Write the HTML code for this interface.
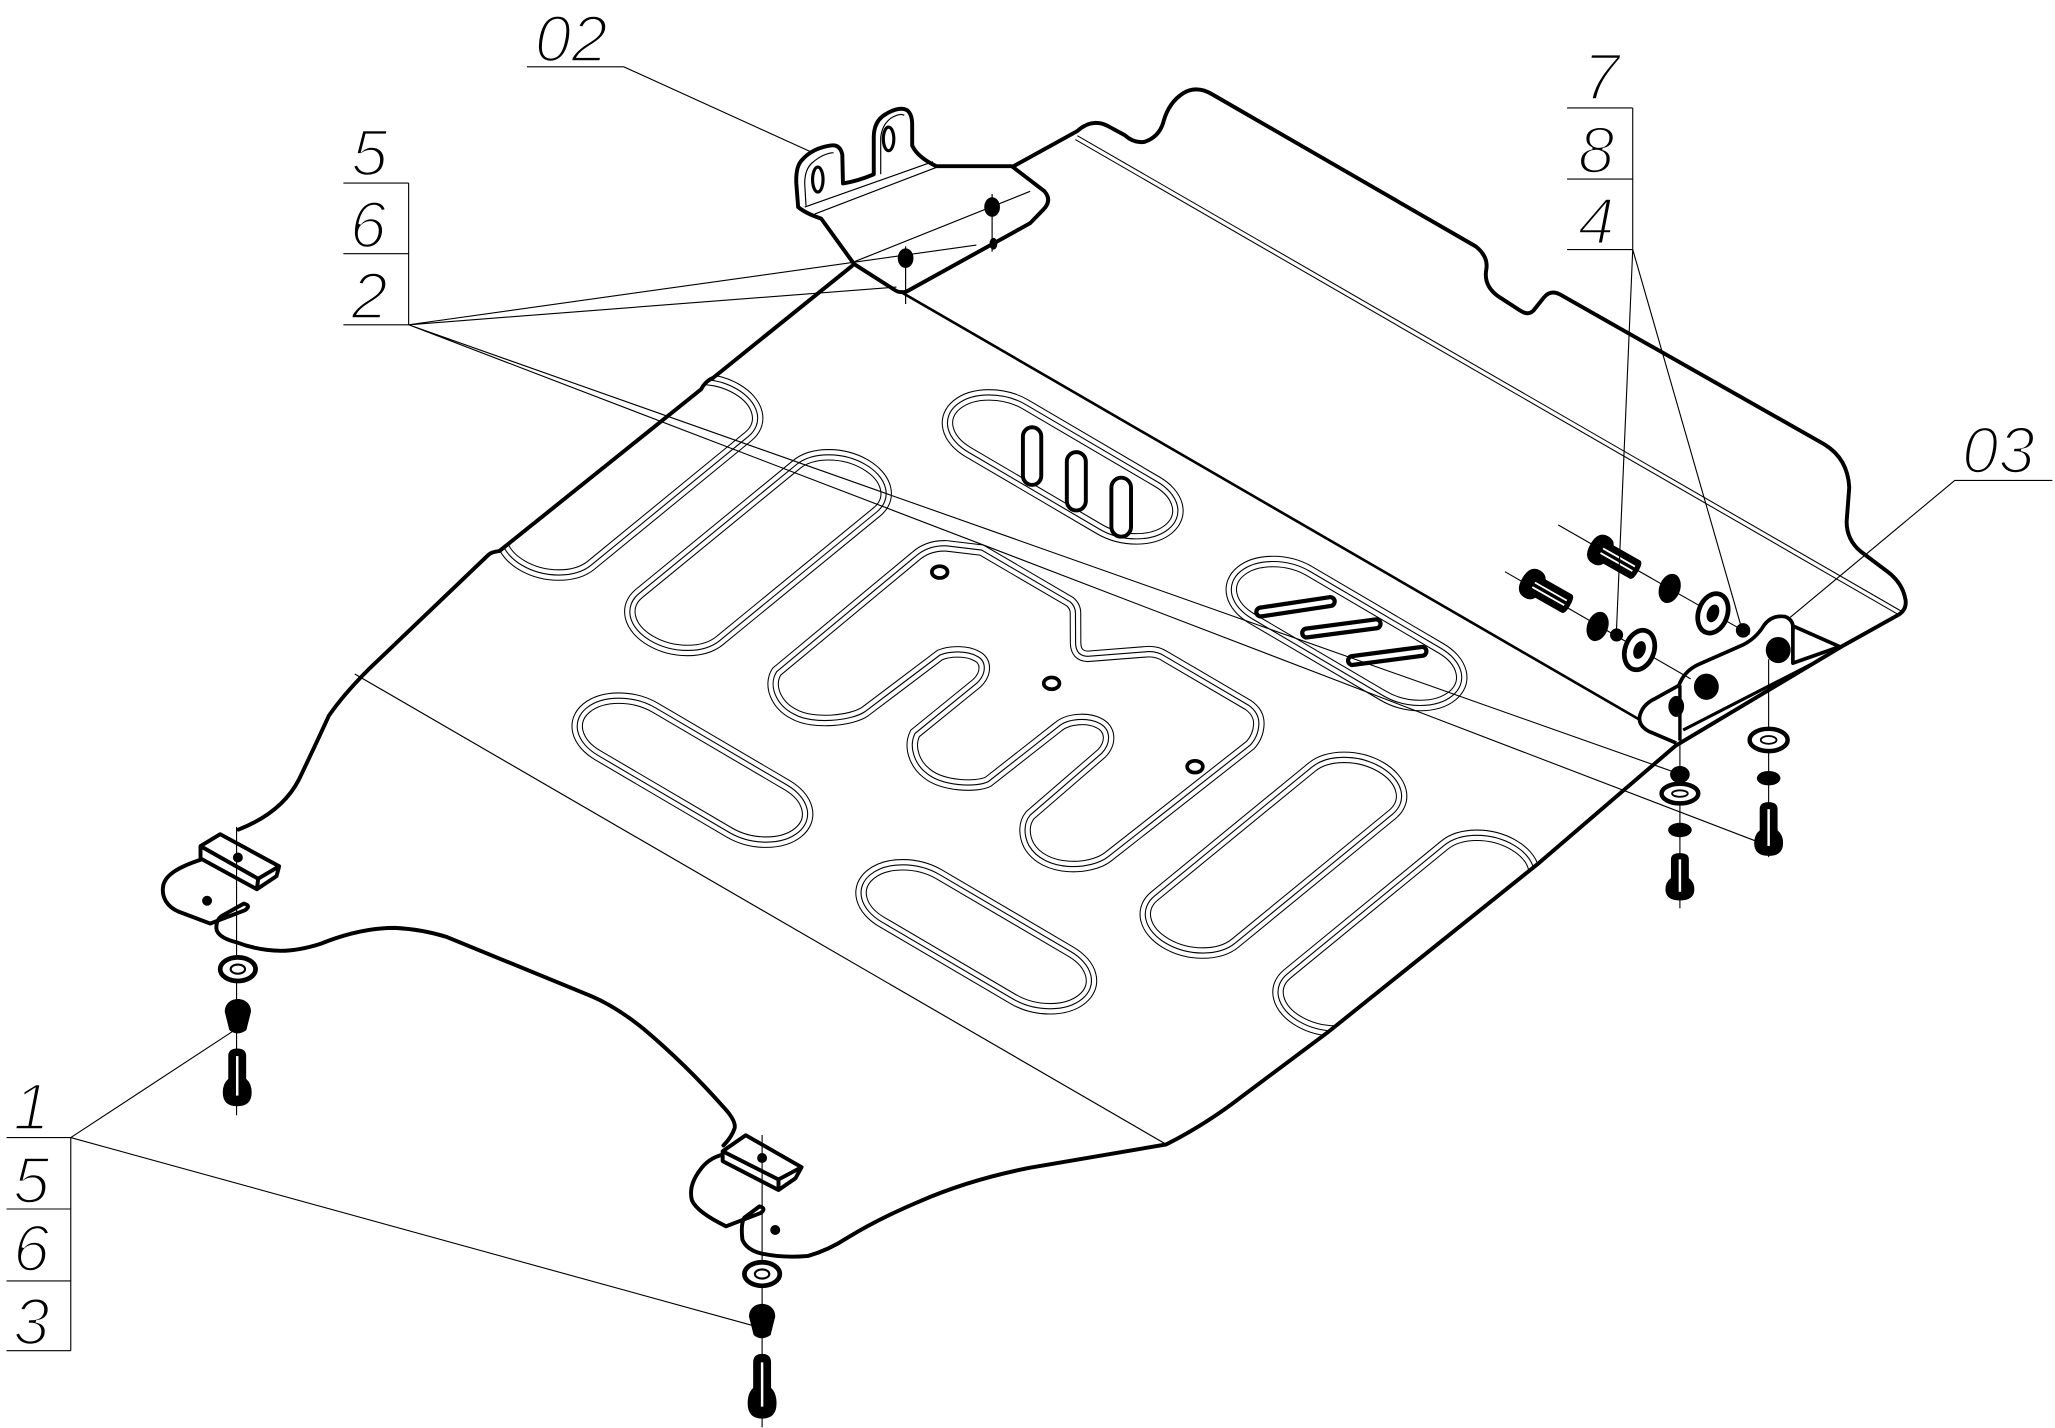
<!DOCTYPE html>
<html><head><meta charset="utf-8">
<style>
html,body{margin:0;padding:0;background:#fff;}
svg{display:block;}
text{font-family:"Liberation Sans",sans-serif;font-style:italic;font-size:50px;fill:#000;stroke:#fff;stroke-width:2px;}
</style></head><body>
<svg width="2055" height="1428" viewBox="0 0 1568 1089.6" preserveAspectRatio="none">
<defs>
<clipPath id="pc"><polygon points="650,203 544,288 381,421 281,511 251,546 228,595 182,633 153,650 124,678 136,696 160,705 240,722 300,708 341,715 451,760 491,785 551,844 561,861 551,874 534,893 528,916 554,936 616,958 647,944 702,917 786,891 890,873 947,837 1013,788 1173,660 1278,569 1405,493 1447,470 1454,458 1440,436 1420,421 1409,398 1411,372 1392,339 1190,224 1160,237 1134,206 1126,188 925,72 903,71 888,92 874,108 845,96 822,100 773,127 700,168"/></clipPath>
<g id="sl">
<rect x="471.5" y="-181.5" width="57" height="212" rx="28.5" ry="28.5" vector-effect="non-scaling-stroke"/>
<rect x="562.5" y="-181.5" width="57" height="212" rx="28.5" ry="28.5" vector-effect="non-scaling-stroke"/>
<rect x="927.5" y="-181.5" width="57" height="212" rx="28.5" ry="28.5" vector-effect="non-scaling-stroke"/>
<rect x="1021.5" y="-181.5" width="57" height="212" rx="28.5" ry="28.5" vector-effect="non-scaling-stroke"/>
<rect x="598.5" y="81.5" width="150" height="57" rx="28.5" ry="28.5" vector-effect="non-scaling-stroke"/>
<rect x="799.5" y="81.5" width="150" height="57" rx="28.5" ry="28.5" vector-effect="non-scaling-stroke"/>
<rect x="598.5" y="-283.5" width="150" height="57" rx="28.5" ry="28.5" vector-effect="non-scaling-stroke"/>
<rect x="799.5" y="-283.5" width="150" height="57" rx="28.5" ry="28.5" vector-effect="non-scaling-stroke"/>
</g>
<path id="mz" d="M592.6,512.5 L698.2,424.8 Q708,416 722,416.5 L749,419.7 L816.4,459.1 Q821,463 820.6,469 L820.7,490.9 Q821,500.5 830,500.8 L876.2,497.2 Q883,497 888.5,500.5 L952.5,538 Q961,544 960.5,553 Q960,562 954,568.5 L845.7,653.6 C833,664 797,666 785,645 C781,637 781,628 786,622 L840.6,574.8 C848,567 848,556 838,551.5 C830,547.5 815,548 807.5,554.5 L754.1,596.4 C745,601 719,600 707,590 C698,583 693,570 698.2,559.6 L745.2,521.4 C753,514 753,504 745,500.5 C738,496.5 725,496.5 717.2,499.8 L660,543 C650,550 620,553 606,545 C592,538 586,523 592.6,512.5 Z"/>
<g id="bolt"><path d="M-6.5,5 Q-6.5,0 0,0 Q6.5,0 6.5,5 L6.5,20 Q10.5,23 10.5,29 Q10.5,38 0,38 Q-10.5,38 -10.5,29 Q-10.5,23 -6.5,20 Z" fill="#000"/><line x1="0" y1="5" x2="0" y2="31" stroke="#fff" stroke-width="1.8"/></g>
<g id="hbolt"><path d="M-8,3 Q-8,0 0,0 Q8,0 8,3 L8,26 Q12,28 12,33 Q12,42 0,42 Q-12,42 -12,33 Q-12,28 -8,26 Z" fill="#000"/><line x1="-2" y1="4" x2="-2" y2="32" stroke="#fff" stroke-width="1.4"/><line x1="2" y1="4" x2="2" y2="32" stroke="#fff" stroke-width="1.4"/></g>
</defs>

<!-- slots and meander (clipped to plate) -->
<g clip-path="url(#pc)" fill="none">
 <g transform="matrix(1.0775 0.6325 0.774 -0.634 0 0)">
  <use href="#sl" fill="none" stroke="#000" stroke-width="11.5"/>
  <use href="#sl" fill="none" stroke="#fff" stroke-width="9.4"/>
  <use href="#sl" fill="none" stroke="#000" stroke-width="1.1"/>
 </g>
 <use href="#mz" fill="none" stroke="#000" stroke-width="8.8"/>
 <use href="#mz" fill="none" stroke="#fff" stroke-width="7.2"/>
 <use href="#mz" fill="none" stroke="#000" stroke-width="0.85"/>
</g>

<!-- small slots in C -->
<g fill="#fff" stroke="#000" stroke-width="3">
 <rect x="780.5" y="326" width="14" height="44" rx="7"/>
 <rect x="814" y="345" width="14.5" height="44.5" rx="7.2"/>
 <rect x="848" y="364.5" width="15" height="45" rx="7.5"/>
</g>
<!-- small slots in D -->
<g stroke-linecap="round" fill="none">
 <path d="M962,467 L1015,459 M997,483 L1050,476 M1032,504 L1085,497" stroke="#000" stroke-width="10"/>
 <path d="M962,467 L1015,459 M997,483 L1050,476 M1032,504 L1085,497" stroke="#fff" stroke-width="3.5"/>
</g>
<!-- small holes -->
<g fill="#fff" stroke="#000" stroke-width="2.8">
 <ellipse cx="717" cy="436.5" rx="6" ry="4.5"/>
 <ellipse cx="802.4" cy="521.4" rx="6" ry="4.5"/>
 <ellipse cx="911.8" cy="585" rx="6" ry="4.5"/>
</g>

<!-- fold lines -->
<g fill="none" stroke="#000">
 <line x1="686.8" y1="222.4" x2="1251.3" y2="549.3" stroke-width="2"/>
 <line x1="270.7" y1="514.3" x2="889.9" y2="873.2" stroke-width="0.9"/>
 <line x1="822" y1="103.5" x2="1451" y2="466.5" stroke-width="0.8"/>
 <line x1="820.5" y1="106.5" x2="1449.5" y2="469.5" stroke-width="0.8"/>
</g>

<!-- plate outline -->
<g fill="none" stroke="#000" stroke-width="3" stroke-linejoin="round" stroke-linecap="round">
 <path d="M650,203 L544,288.4 Q538,291 535,297 L381,420.5 Q375,421 372,424 L281,511 Q262,530 251,546 Q240,570 228,595 Q215,620 182,633"/>
 <path d="M153,656 C138,661 126,667 124.5,676 C123,685 128,692 136,695.5 L160.4,704.7 L187,694.5 Q192,691 186,689.5 L169,699 Q164,703 165.4,710 Q168,716 180.5,719 Q196,725 214,725.5 Q228,725.5 245,720 Q275,708 301,708 Q322,709 341,715 L451,760 Q470,768 491,785 Q523,812 551,843.6 Q562,855 560.5,861 Q558,868 552,874"/>
 <path d="M551.4,881 Q540,884 534,893 Q525,905 528,916 Q532,925 554,935.7 L580.5,925.5 Q585,922 579.5,920.5 L568,929 Q565,934 566.5,946 Q570,954 581.5,956.6 Q598,960 616.6,958.3 Q632,954 646.7,944.4 Q670,930 701.8,916.6 Q740,900 786,891 L889.9,873.2 Q920,858 947.5,836.7 L1012.7,788 L1173,659.5 L1278.4,569.1 L1405,493.4 L1447,470 Q1455,466 1454,458 Q1452,445 1440,436 L1420,421 Q1409,412 1409,398 L1411,372 Q1410,350 1392,339 L1190,224.5 Q1183,221 1178,227 L1170,237 Q1166,241 1160,237 L1143,226 Q1132,218 1134,206 Q1136,196 1126,188 L925,72 Q913,65 903,71 Q892,78 888,92 Q885,104 874,108 Q866,110 858,103 L845,96 Q833,90 822,100 L773,127"/>
</g>

<!-- blocks -->
<g fill="#fff" stroke="#000" stroke-width="3" stroke-linejoin="round">
 <path d="M153,645.6 L168,636.5 L213,661 L211,668.5 L196,678.5 L153,655 Z"/>
 <path d="M153,645.6 L197,670.5 L213,661 M197,670.5 L196,678.5" fill="none"/>
 <path d="M551.4,878.4 L569,866.2 L611.6,890.6 L607,899 L594,908 L551.4,886 Z"/>
 <path d="M551.4,878.4 L594,900 L611.6,890.6 M594,900 L594,908" fill="none"/>
</g>
<g fill="#000">
 <circle cx="181.5" cy="654.3" r="3.8"/>
 <circle cx="158" cy="687.3" r="3.8"/>
 <circle cx="581.5" cy="883.6" r="3.8"/>
 <circle cx="591.5" cy="938.5" r="3.8"/>
</g>

<!-- bracket 02 -->
<g stroke="#000" stroke-linejoin="round">
 <path d="M609,158 L607.6,140 Q607,127 612,122 Q620,113 634,111 Q641,110 642.7,118 L643.2,140 Q655,138 666.7,133 L666.7,104 Q667,92 676,87 Q686,81 692,84 Q696,87 696,95 L696,111 Q700,120 714.4,126.8 L772,126.8 L797,146 Q803,153 796,160 L786,170.3 L691.8,222.4 Q686,224 681.8,220.7 L651.7,201.5 L626.6,166.8 Q615,163 609,158 Z" fill="#fff" stroke-width="3"/>
 <path d="M614,158 L711.8,123.4 M621.6,163.3 L716.9,126.8 M651.7,199.8 L786,146 M615,157 L614,140 Q614,129 620,124 Q628,117 636,116.5 M672,133 L672,105 Q673,95 680,90 Q687,86 690,88" fill="none" stroke-width="0.9"/>
 <ellipse cx="624" cy="137" rx="4" ry="9.5" fill="#fff" stroke-width="2.4"/>
 <ellipse cx="678" cy="106" rx="4" ry="9" fill="#fff" stroke-width="2.4"/>
 <path d="M757,148 V192 M691,188 V232" fill="none" stroke-width="0.9"/>
 <ellipse cx="757" cy="158" rx="6" ry="7.5" fill="#000" stroke="none"/>
 <ellipse cx="758" cy="186" rx="3" ry="4.5" fill="#000" stroke="none"/>
 <ellipse cx="691" cy="197" rx="6" ry="7.5" fill="#000" stroke="none"/>
</g>

<!-- bracket 03 -->
<g fill="none" stroke="#000" stroke-linejoin="round">
 <path d="M1279,567 L1258,558 Q1249,553 1251.5,545 Q1254,537 1263,533 L1281,523 Q1285,512 1296,507 L1330,492 Q1340,487 1346,477 Q1352,469 1362,470.5 Q1369,473 1368,481" stroke-width="2.8"/>
 <path d="M1368,477.6 L1403.8,493.4 L1368,506 Z" stroke-width="2.8"/>
 <path d="M1284.3,557 L1383.5,506.1" stroke-width="2.4"/>
 <path d="M1281.8,523 V565" stroke-width="2.6"/>
</g>
<g fill="#000">
 <ellipse cx="1302" cy="524" rx="9.5" ry="10"/>
 <ellipse cx="1356.8" cy="496" rx="9.5" ry="10"/>
 <ellipse cx="1279" cy="539" rx="6" ry="8"/>
</g>

<!-- fastener axis lines -->
<g stroke="#000" stroke-width="0.85" fill="none">
 <line x1="180.5" y1="631" x2="180.5" y2="851"/>
 <line x1="581.5" y1="866" x2="581.5" y2="1089"/>
 <line x1="1281.8" y1="564" x2="1281.8" y2="693"/>
 <line x1="1349.5" y1="503" x2="1349.5" y2="654"/>
 <line x1="1189" y1="400.6" x2="1335" y2="484"/>
 <line x1="1148.3" y1="436.2" x2="1290" y2="518"/>
</g>

<!-- lower-left fasteners -->
<g id="fl">
 <ellipse cx="181.5" cy="739.5" rx="13.5" ry="9" fill="#fff" stroke="#000" stroke-width="3.6"/>
 <ellipse cx="181.5" cy="739.5" rx="5.5" ry="3.5" fill="none" stroke="#000" stroke-width="1.6"/>
 <path d="M171.5,772 C171.5,759 191.5,759 191.5,772 L188,786 Q181,791 175,786 Z" fill="#000"/>
</g>
<use href="#bolt" transform="translate(181,800) scale(1.05,1.16)"/>
<use href="#fl" transform="translate(400,232.6)"/>
<use href="#bolt" transform="translate(581.5,1033) scale(1.05,1.3)"/>

<!-- 03 fasteners vertical -->
<g fill="#000">
 <ellipse cx="1281.8" cy="591" rx="7.5" ry="6.5"/>
 <ellipse cx="1281.8" cy="633.3" rx="9" ry="5.5"/>
 <ellipse cx="1349.5" cy="593.8" rx="9" ry="5.5"/>
</g>
<g fill="#fff" stroke="#000">
 <ellipse cx="1281.8" cy="605.5" rx="14" ry="7.5" stroke-width="3.4"/>
 <ellipse cx="1281.8" cy="605.5" rx="6" ry="2.5" stroke-width="1.4" fill="none"/>
 <ellipse cx="1349.5" cy="564.6" rx="14.5" ry="8.5" stroke-width="3.4"/>
 <ellipse cx="1349.5" cy="564.6" rx="6" ry="3" stroke-width="1.4" fill="none"/>
</g>
<use href="#bolt" transform="translate(1281.8,651) scale(1.05,0.95)"/>
<use href="#bolt" transform="translate(1349.5,612) scale(1.05,1.08)"/>

<!-- 03 fasteners horizontal -->
<use href="#hbolt" transform="translate(1250,436) rotate(119.6)"/>
<use href="#hbolt" transform="translate(1198,462) rotate(119.6)"/>
<g fill="#000">
 <ellipse cx="1274" cy="449" rx="8" ry="11.5" transform="rotate(20 1274 449)"/>
 <ellipse cx="1219" cy="478" rx="8" ry="11.5" transform="rotate(20 1219 478)"/>
 <circle cx="1330" cy="481" r="5.5"/>
 <circle cx="1233.5" cy="484.5" r="5"/>
</g>
<g stroke="#000">
 <ellipse cx="1307" cy="468" rx="11" ry="15.5" transform="rotate(20 1307 468)" fill="#fff" stroke-width="3.6"/>
 <ellipse cx="1307" cy="468" rx="4.5" ry="7" transform="rotate(20 1307 468)" fill="#000" stroke="none"/>
 <ellipse cx="1251" cy="496" rx="11" ry="15.5" transform="rotate(20 1251 496)" fill="#fff" stroke-width="3.6"/>
 <ellipse cx="1251" cy="496" rx="4.5" ry="7" transform="rotate(20 1251 496)" fill="#000" stroke="none"/>
</g>

<!-- labels -->
<text x="408" y="47">02</text>
<text x="268" y="134">5</text>
<text x="267" y="189">6</text>
<text x="268" y="243">2</text>
<text x="1208" y="76">7</text>
<text x="1204" y="132">8</text>
<text x="1204" y="186">4</text>
<text x="1497" y="361">03</text>
<text x="10" y="862">1</text>
<text x="10" y="918">5</text>
<text x="10" y="970">6</text>
<text x="10" y="1026">3</text>

<!-- leader lines -->
<g fill="none" stroke="#000" stroke-width="0.85">
 <path d="M402,51 H476 L619,116"/>
 <path d="M262,139.7 H311.8 M262,193.6 H311.8 M262,247.8 H311.8 M311.8,139.7 V247.8"/>
 <path d="M311.8,247.8 L745,187 M311.8,247.8 L684,219 M311.8,247.8 L1280,590 M311.8,247.8 L1343,643"/>
 <path d="M1195.7,82.4 H1245.8 M1195.7,136.6 H1245.8 M1195.7,190.4 H1245.8 M1245.8,82.4 V190.4"/>
 <path d="M1245.8,190.4 L1233.3,483 M1245.8,190.4 L1328.5,478"/>
 <path d="M1566,366.6 H1491.5 L1366,471"/>
 <path d="M5,868 H54 M5,922.5 H54 M5,977.4 H54 M5,1030.6 H54 M54,868 V1030.6"/>
 <path d="M54,868 L180.5,785 M54,868 L576.5,1012"/>
</g>
</svg>
</body></html>
